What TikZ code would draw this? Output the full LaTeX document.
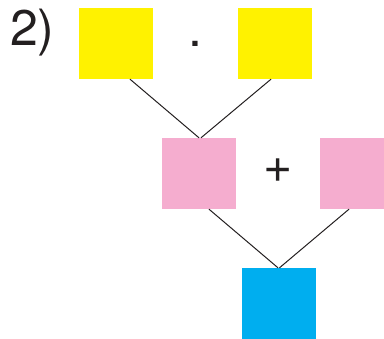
\documentclass[tikz,border=0pt]{standalone}
\usepackage{fontspec}
\setmainfont{TeX Gyre Heros}
\definecolor{ylw}{HTML}{FFF200}
\definecolor{pnk}{HTML}{F5ADCF}
\definecolor{blu}{HTML}{00AEEF}
\definecolor{ink}{HTML}{231F20}
\begin{document}
\begin{tikzpicture}[x=1pt,y=-1pt,
  sq/.style={rectangle,inner sep=0pt,minimum width=74pt,minimum height=71pt,draw=none},
  lbl/.style={inner sep=0pt,anchor=base,text=ink,font=\fontsize{50}{50}\selectfont},
  link/.style={draw=ink,line width=1pt}]
\useasboundingbox (0,0) rectangle (384,339);
\node[lbl,anchor=base west] (num) at (10,45.5) {2)};
\node[sq,fill=ylw] (y1) at (116,43.5) {};
\node[sq,fill=ylw] (y2) at (275,43.5) {};
\node[lbl] (dot) at (195,46.8) {.};
\node[sq,fill=pnk] (p1) at (199,173.5) {};
\node[sq,fill=pnk,minimum width=64pt] (p2) at (352,173.5) {};
\node[lbl] (plus) at (278,182.5) {+};
\node[sq,fill=blu] (b) at (279,303.5) {};
\draw[link] ([xshift=14pt]y1.south) -- ([xshift=0pt]p1.north);
\draw[link] ([xshift=-4pt]y2.south) -- ([xshift=2pt]p1.north);
\draw[link] ([xshift=10pt]p1.south) -- ([xshift=-1pt]b.north);
\draw[link] ([xshift=-3pt]p2.south) -- ([xshift=0.5pt]b.north);
\end{tikzpicture}
\end{document}
